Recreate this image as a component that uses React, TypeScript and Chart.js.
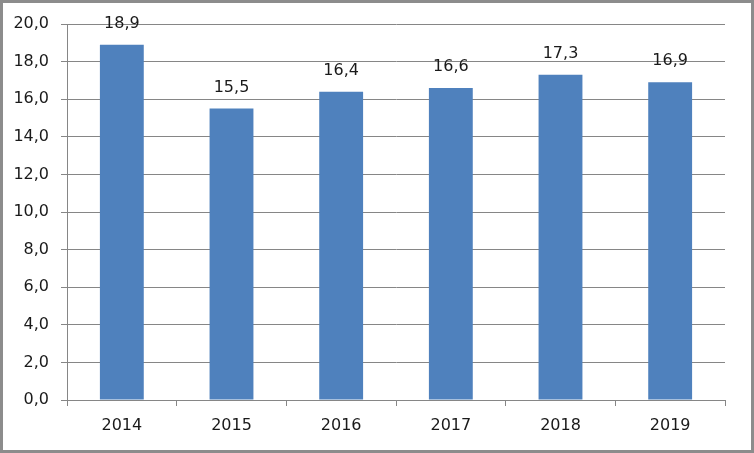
import React, { useEffect, useRef } from "react";
import { Chart, registerables } from "chart.js";

Chart.register(...registerables);

const categories = ["2014", "2015", "2016", "2017", "2018", "2019"];
const values = [18.9, 15.5, 16.4, 16.6, 17.3, 16.9];
const yMin = 0;
const yMax = 20;
const yStep = 2;

const fmt = (v: number) => v.toFixed(1).replace(".", ",");

const FONT = "'DejaVu Sans', sans-serif";

const frame = {
  id: "frame",
  beforeDraw(chart: any) {
    const { ctx, width, height } = chart;
    ctx.save();
    ctx.fillStyle = "#ffffff";
    ctx.fillRect(0, 0, width, height);
    ctx.strokeStyle = "#8c8c8c";
    ctx.lineWidth = 3;
    ctx.strokeRect(1.5, 1.5, width - 3, height - 3);
    ctx.restore();
  },
};

const valueLabels = {
  id: "valueLabels",
  afterDatasetsDraw(chart: any) {
    const { ctx } = chart;
    const meta = chart.getDatasetMeta(0);
    ctx.save();
    ctx.fillStyle = "#1a1a1a";
    ctx.font = `16px ${FONT}`;
    ctx.textAlign = "center";
    ctx.textBaseline = "middle";
    meta.data.forEach((bar: any, i: number) => {
      ctx.fillText(fmt(values[i]), bar.x, bar.y - 21);
    });
    ctx.restore();
  },
};

export default function App() {
  const ref = useRef<HTMLCanvasElement>(null);
  useEffect(() => {
    const chart = new Chart(ref.current!, {
      type: "bar",
      data: {
        labels: categories,
        datasets: [
          {
            data: values,
            backgroundColor: "#4f81bd",
            borderWidth: 0,
            barPercentage: 0.8,
            categoryPercentage: 0.5,
          },
        ],
      },
      options: {
        animation: false,
        responsive: false,
        devicePixelRatio: 1,
        layout: { padding: { top: 24, right: 29, left: 0, bottom: 0 } },
        plugins: { legend: { display: false }, tooltip: { enabled: false } },
        scales: {
          x: {
            offset: true,
            grid: {
              offset: true,
              drawOnChartArea: false,
              color: "#868686",
              tickLength: 6,
            },
            border: { display: true, color: "#868686" },
            ticks: { color: "#1a1a1a", font: { family: FONT, size: 16 }, padding: 10 },
            afterFit: (s: any) => {
              s.height = 53;
            },
          },
          y: {
            min: yMin,
            max: yMax,
            ticks: {
              stepSize: yStep,
              color: "#1a1a1a",
              font: { family: FONT, size: 16 },
              padding: 12,
              callback: (v: any) => fmt(Number(v)),
            },
            grid: { color: "#868686", tickLength: 6 },
            border: { display: true, color: "#868686" },
            afterFit: (s: any) => {
              s.width = 67;
            },
          },
        },
      },
      plugins: [frame, valueLabels],
    });
    return () => chart.destroy();
  }, []);
  return (
    <div style={{ position: "fixed", left: 0, top: 0, width: 754, height: 453 }}>
      <canvas ref={ref} width={754} height={453} style={{ width: 754, height: 453 }} />
    </div>
  );
}
